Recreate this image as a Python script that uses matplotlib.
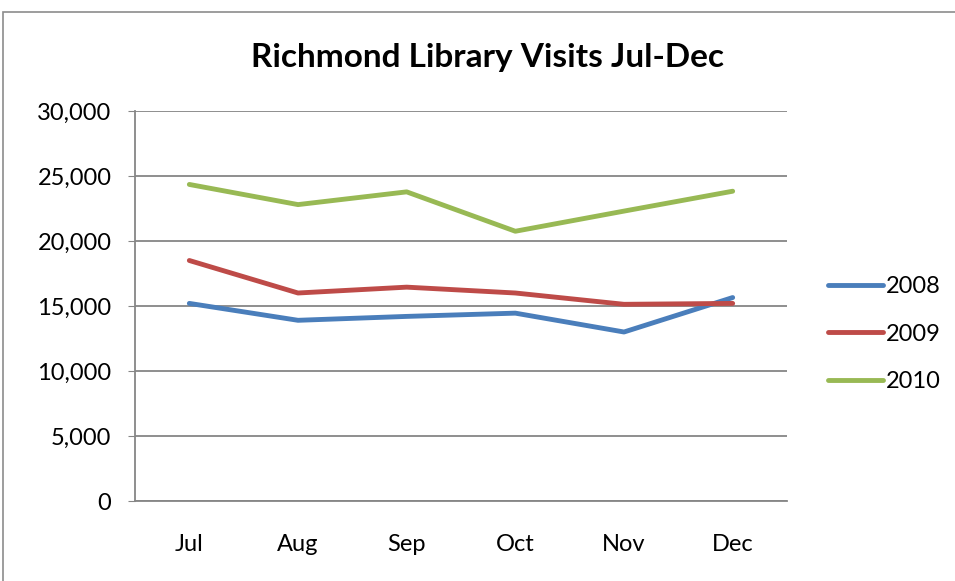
import matplotlib.pyplot as plt
from matplotlib.patches import Rectangle
from matplotlib.ticker import FuncFormatter

months = ["Jul", "Aug", "Sep", "Oct", "Nov", "Dec"]
visits_2008 = [15200, 13900, 14200, 14450, 13000, 15650]
visits_2009 = [18500, 16000, 16450, 16000, 15130, 15200]
visits_2010 = [24350, 22800, 23780, 20750, 22300, 23830]

plt.rcParams['font.family'] = ['Lato', 'DejaVu Sans']

fig = plt.figure(figsize=(9.55, 5.81), dpi=100)
ax = fig.add_axes([135/955, 1-501/581, (787-135)/955, (501-111)/581])

# outer chart border
fig.patches.append(Rectangle((3/955, -0.1), 1.1, 1-12/581+0.1, transform=fig.transFigure,
                             fill=False, edgecolor="#8c8c8c", lw=1.2))

x = range(len(months))
ax.plot(x, visits_2008, color="#4A7EBB", lw=3.5, solid_capstyle="round", label="2008")
ax.plot(x, visits_2009, color="#BE4B48", lw=3.5, solid_capstyle="round", label="2009")
ax.plot(x, visits_2010, color="#98B954", lw=3.5, solid_capstyle="round", label="2010")

ax.set_xlim(-0.5, 5.5)
ax.set_ylim(0, 30000)
ax.set_yticks(range(0, 30001, 5000))
ax.yaxis.set_major_formatter(FuncFormatter(lambda v, p: f"{int(v):,}"))
ax.set_xticks(list(x))
ax.set_xticklabels(months)
ax.grid(axis="y", color="#868686", lw=1.3)
ax.set_axisbelow(True)
for s in ["top", "right"]:
    ax.spines[s].set_visible(False)
for s in ["left", "bottom"]:
    ax.spines[s].set_color("#868686")
    ax.spines[s].set_linewidth(1.3)
ax.tick_params(axis="y", length=5, color="#868686", labelsize=17, pad=12)
ax.tick_params(axis="x", length=0, labelsize=17, pad=24)

fig.text(487/955, 1-57/581, "Richmond Library Visits Jul-Dec", ha="center", va="center",
         fontsize=24, fontweight="bold")

fig.legend(loc="center left", bbox_to_anchor=(807/955, 1-334/581), frameon=False,
           fontsize=17, handlelength=2.3, handletextpad=0.15, labelspacing=1.12)

fig.savefig("out.png", dpi=100)
